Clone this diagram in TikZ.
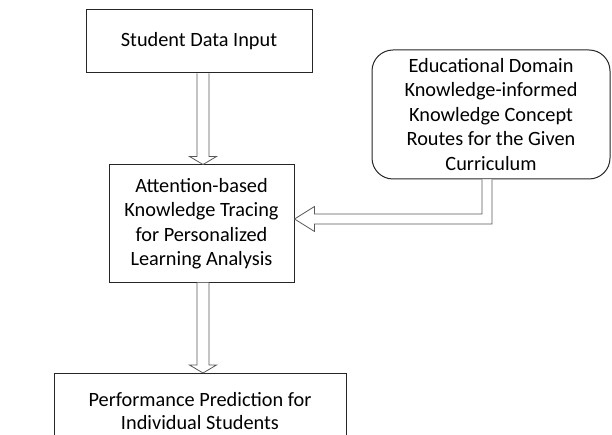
\documentclass[tikz,border=0pt]{standalone}
\usepackage{fontspec}
\setmainfont{Carlito}
\usetikzlibrary{calc}
\begin{document}
\begin{tikzpicture}[x=1pt,y=1pt,
  box/.style={draw=black!85, line width=1pt, fill=white, align=center,
    font=\fontsize{20.3}{24.5}\selectfont, inner sep=0pt},
  arr/.style={draw=black!65, line width=0.8pt, fill=white, line join=miter}]
\useasboundingbox (0,0) rectangle (612,-435);
\clip (0,0) rectangle (612,-435);
\node[box, minimum width=226, minimum height=63] (b1) at (199,-41.5) {Student Data Input};
\node[box, minimum width=185, minimum height=117] (b2) at (201.5,-223.5)
  {Attention-based\\Knowledge Tracing\\for Personalized\\Learning Analysis};
\node[box, minimum width=292, minimum height=80, anchor=north] (b3) at (200,-373)
  {};
\node[align=center, font=\fontsize{20.3}{23}\selectfont, inner sep=0pt] (b3t) at (200,-411.5)
  {Performance Prediction for\\Individual Students};
\node[box, rounded corners=21pt, minimum width=238, minimum height=129] (b4) at (491,-114.5)
  {Educational Domain\\Knowledge-informed\\Knowledge Concept\\Routes for the Given\\Curriculum};
% arrow 1
\draw[arr] let \p1=(b1.south), \p2=(b2.north) in
  (203-6,\y1) -- (203-6,\y2+8) -- (203-13.5,\y2+8) -- (203,\y2)
  -- (203+13.5,\y2+8) -- (203+6,\y2+8) -- (203+6,\y1);
% arrow 2
\draw[arr] let \p1=(b2.south), \p2=(b3.north) in
  (203-6,\y1) -- (203-6,\y2+8) -- (203-13.5,\y2+8) -- (203,\y2)
  -- (203+13.5,\y2+8) -- (203+6,\y2+8) -- (203+6,\y1);
% arrow 3
\draw[arr] let \p1=(b4.south), \p2=(b2.east) in
  (482,\y1) -- (482,-214) -- (\x2+20,-214) -- (\x2+20,-206.5) -- (\x2,-219)
  -- (\x2+20,-231.5) -- (\x2+20,-224) -- (492,-224) -- (492,\y1);
\end{tikzpicture}
\end{document}
